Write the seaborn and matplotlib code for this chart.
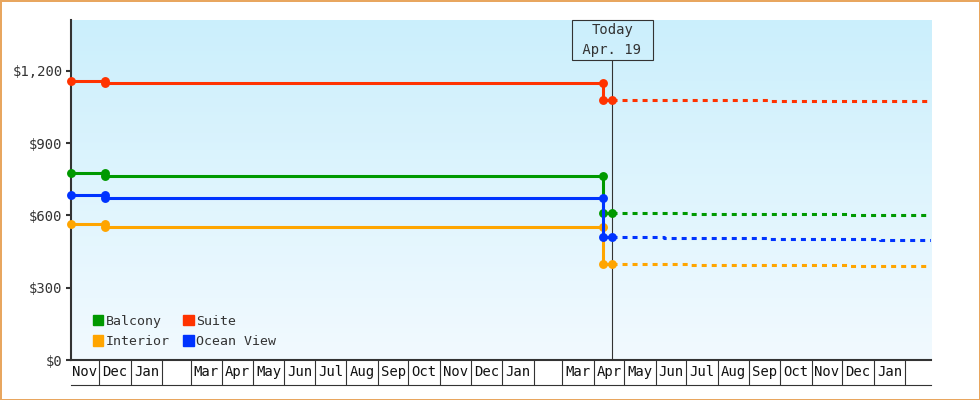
import numpy as np
import pandas as pd
import matplotlib.pyplot as plt
import matplotlib.dates as mdates
from matplotlib.patches import Patch
from matplotlib.colors import LinearSegmentedColormap
import seaborn as sns

plt.rcParams['font.family'] = ['DejaVu Sans Mono', 'DejaVu Sans']

# cabin categories, legend order
cabins = ["Balcony", "Interior", "Suite", "Ocean View"]
colors = ["#009900", "#ffa500", "#ff3300", "#0033ff"]

# price history (value changes on these dates, last date is today)
hist_dates = ["2021-11-03", "2021-12-07", "2023-04-10", "2023-04-19"]
balcony_hist = [775, 764, 610, 610]
interior_hist = [564, 551, 398, 398]
suite_hist = [1158, 1149, 1079, 1079]
ocean_hist = [685, 672, 510, 510]

# forecast from today on
fc_dates = ["2023-04-19", "2023-06-09", "2023-07-04", "2023-09-19",
            "2023-12-09", "2024-01-07", "2024-02-26"]
balcony_fc = [610, 610, 606, 606, 601, 601, 601]
interior_fc = [398, 398, 394, 394, 390, 390, 390]
suite_fc = [1079, 1079, 1079, 1075, 1075, 1075, 1075]
ocean_fc = [510, 506, 506, 501, 501, 497, 497]

today = "2023-04-19"
today_label = "Today\n Apr. 19 "
x_start, x_end = "2021-11-03", "2024-02-26"
y_ticks = [0, 300, 600, 900, 1200]
y_max = 1410

palette = dict(zip(cabins, colors))

# step-shaped history: add the old value at each change date
rows = []
hd = pd.to_datetime(hist_dates)
for cab, vals in zip(cabins, [balcony_hist, interior_hist, suite_hist, ocean_hist]):
    for i in range(len(hd)):
        if i > 0 and vals[i] != vals[i - 1]:
            rows.append((cab, hd[i], vals[i - 1]))
        rows.append((cab, hd[i], vals[i]))
hist = pd.DataFrame(rows, columns=["cabin", "date", "price"])

fc_rows = []
fd = pd.to_datetime(fc_dates)
for cab, vals in zip(cabins, [balcony_fc, interior_fc, suite_fc, ocean_fc]):
    for d, v in zip(fd, vals):
        fc_rows.append((cab, d, v))
fc = pd.DataFrame(fc_rows, columns=["cabin", "date", "price"])

fig = plt.figure(figsize=(9.8, 4), dpi=100, facecolor="white",
                 edgecolor="#e8a65f", linewidth=2)
pos = [70.5 / 980, 39.7 / 400, 860.2 / 980, 340.3 / 400]

# gradient background
bg = fig.add_axes(pos, zorder=0)
bg.axis("off")
cmap = LinearSegmentedColormap.from_list("bg", ["#f2faff", "#cbeffc"])
bg.imshow(np.linspace(0, 1, 256).reshape(-1, 1), cmap=cmap, origin="lower",
          aspect="auto", extent=[0, 1, 0, 1])

ax = fig.add_axes(pos, zorder=1)
ax.patch.set_visible(False)

sns.lineplot(data=fc, x="date", y="price", hue="cabin", palette=palette,
             estimator=None, sort=False, legend=False, ax=ax,
             drawstyle="steps-post", linewidth=2.2, linestyle=(0, (1.64, 1.64)),
             zorder=2)
sns.lineplot(data=hist, x="date", y="price", hue="cabin", palette=palette,
             estimator=None, sort=False, legend=False, ax=ax,
             linewidth=2.2, marker="o", markersize=6.4, markeredgewidth=0,
             clip_on=False, zorder=3)

x0, x1 = mdates.date2num(pd.Timestamp(x_start)), mdates.date2num(pd.Timestamp(x_end))
ax.set_xlim(x0, x1)
ax.set_ylim(0, y_max)

# month boxes under the axis
starts = pd.date_range(pd.Timestamp(x_start).to_period("M").to_timestamp(),
                       pd.Timestamp(x_end), freq="MS")
edges = [mdates.date2num(s) for s in starts if x0 < mdates.date2num(s) < x1]
centers, labels = [], []
for s in starts:
    a = max(mdates.date2num(s), x0)
    b = min(mdates.date2num(s + pd.offsets.MonthBegin(1)), x1)
    centers.append((a + b) / 2)
    labels.append("" if s.month == 2 else s.strftime("%b"))
ax.set_xticks(edges)
ax.set_xticklabels([])
ax.set_xticks(centers, labels, minor=True)
ax.tick_params(axis="x", which="major", length=18, width=0.8, color="#333333",
               direction="out")
ax.tick_params(axis="x", which="minor", length=0, pad=3.7, labelsize=10,
               labelcolor="#111111")
ax.plot([0, 1], [-25 / 340, -25 / 340], transform=ax.transAxes, clip_on=False,
        color="#333333", lw=0.8)

ax.set_yticks(y_ticks, [f"${v:,}" for v in y_ticks])
ax.tick_params(axis="y", length=3.6, width=1.5, color="#333333",
               labelcolor="#333333", labelsize=10, pad=2)
ax.set_xlabel("")
ax.set_ylabel("")
for s in ["top", "right"]:
    ax.spines[s].set_visible(False)
for s in ["left", "bottom"]:
    ax.spines[s].set_color("#333333")
    ax.spines[s].set_linewidth(1.5)

# today marker
t = mdates.date2num(pd.Timestamp(today))
ax.axvline(t, ymin=0, ymax=1 - 40.7 / 340, color="#333333", lw=0.8, zorder=1.5)
ax.text(t, 1 - 3 / 340, today_label, transform=ax.get_xaxis_transform(),
        ha="center", va="top", fontsize=10, color="#333333", linespacing=1.55,
        multialignment="center",
        bbox=dict(boxstyle="square,pad=0.2", fc="none", ec="#333333", lw=0.8))

handles = [Patch(color=c, label=l) for l, c in zip(cabins, colors)]
ax.legend(handles=handles, ncol=2, loc="lower left",
          bbox_to_anchor=(0.026, 0.036), frameon=False, handlelength=0.8,
          handleheight=0.8, handletextpad=0.2, columnspacing=1.0,
          labelspacing=0.55, borderaxespad=0, borderpad=0, fontsize=9.5,
          labelcolor="#333333")

fig.savefig("out.png", dpi=100, facecolor="white", edgecolor=fig.get_edgecolor())
